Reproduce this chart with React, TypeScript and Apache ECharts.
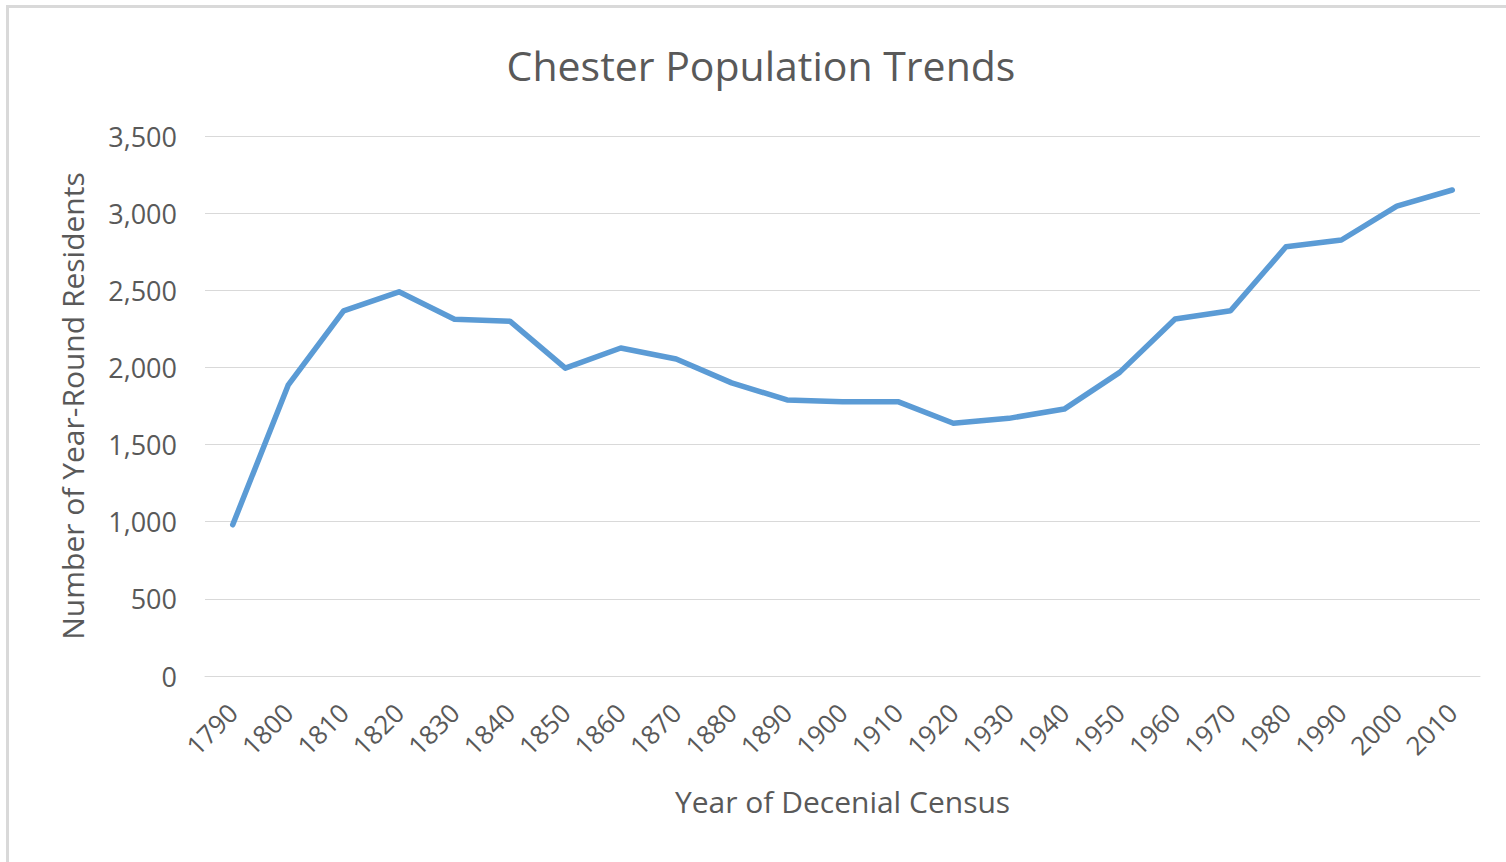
import React, { useEffect, useRef } from "react";
import * as echarts from "echarts";

const years = ["1790","1800","1810","1820","1830","1840","1850","1860","1870","1880","1890","1900","1910","1920","1930","1940","1950","1960","1970","1980","1990","2000","2010"];
const residents = [980,1885,2367,2490,2312,2300,1995,2126,2055,1900,1789,1778,1778,1638,1670,1730,1968,2314,2367,2782,2826,3046,3150];
const titleText = "Chester Population Trends";
const xAxisTitle = "Year of Decenial Census";
const yAxisTitle = "Number of Year-Round Residents";

const FONT = "'Open Sans', sans-serif";
const TEXT = "#595959";
const GRID = "#D9D9D9";

export default function App() {
  const ref = useRef<HTMLDivElement>(null);
  useEffect(() => {
    if (!ref.current) return;
    const chart = echarts.init(ref.current, null, { renderer: "svg" });
    chart.setOption({
      animation: false,
      backgroundColor: "#ffffff",
      textStyle: { fontFamily: FONT },
      title: {
        text: titleText,
        left: 761,
        top: 44,
        padding: 0,
        textAlign: "center",
        textStyle: { fontFamily: FONT, fontSize: 41, fontWeight: "normal", color: TEXT },
      },
      graphic: [
        {
          type: "rect",
          shape: { x: 7.5, y: 6.5, width: 1700, height: 1000 },
          style: { fill: "none", stroke: GRID, lineWidth: 3 },
          silent: true,
        },
      ],
      grid: { left: 205, right: 26, top: 136, bottom: 186, containLabel: false, outerBoundsMode: "none" },
      xAxis: {
        type: "category",
        data: years,
        boundaryGap: true,
        axisLine: { show: true, lineStyle: { color: GRID, width: 1 } },
        axisTick: { show: false },
        axisLabel: { rotate: 45, margin: 32, color: TEXT, fontSize: 26, fontFamily: FONT, interval: 0 },
        name: xAxisTitle,
        nameLocation: "middle",
        nameGap: 110,
        nameTextStyle: { color: TEXT, fontSize: 30, fontFamily: FONT },
        splitLine: { show: false },
      },
      yAxis: {
        type: "value",
        min: 0,
        max: 3500,
        interval: 500,
        axisLine: { show: false },
        axisTick: { show: false },
        axisLabel: {
          margin: 28,
          color: TEXT,
          fontSize: 27,
          fontFamily: FONT,
          formatter: (v: number) => v.toLocaleString("en-US"),
        },
        splitLine: { show: true, lineStyle: { color: GRID, width: 1.2 } },
        name: yAxisTitle,
        nameLocation: "middle",
        nameGap: 118,
        nameTextStyle: { color: TEXT, fontSize: 30, fontFamily: FONT },
      },
      series: [
        {
          type: "line",
          data: residents,
          symbol: "none",
          lineStyle: { color: "#5B9BD5", width: 5.5, cap: "round", join: "round" },
          itemStyle: { color: "#5B9BD5" },
        },
      ],
    });
    return () => chart.dispose();
  }, []);
  return (
    <div
      ref={ref}
      style={{ position: "fixed", left: 0, top: 0, width: 1506, height: 862, background: "#fff" }}
    />
  );
}
